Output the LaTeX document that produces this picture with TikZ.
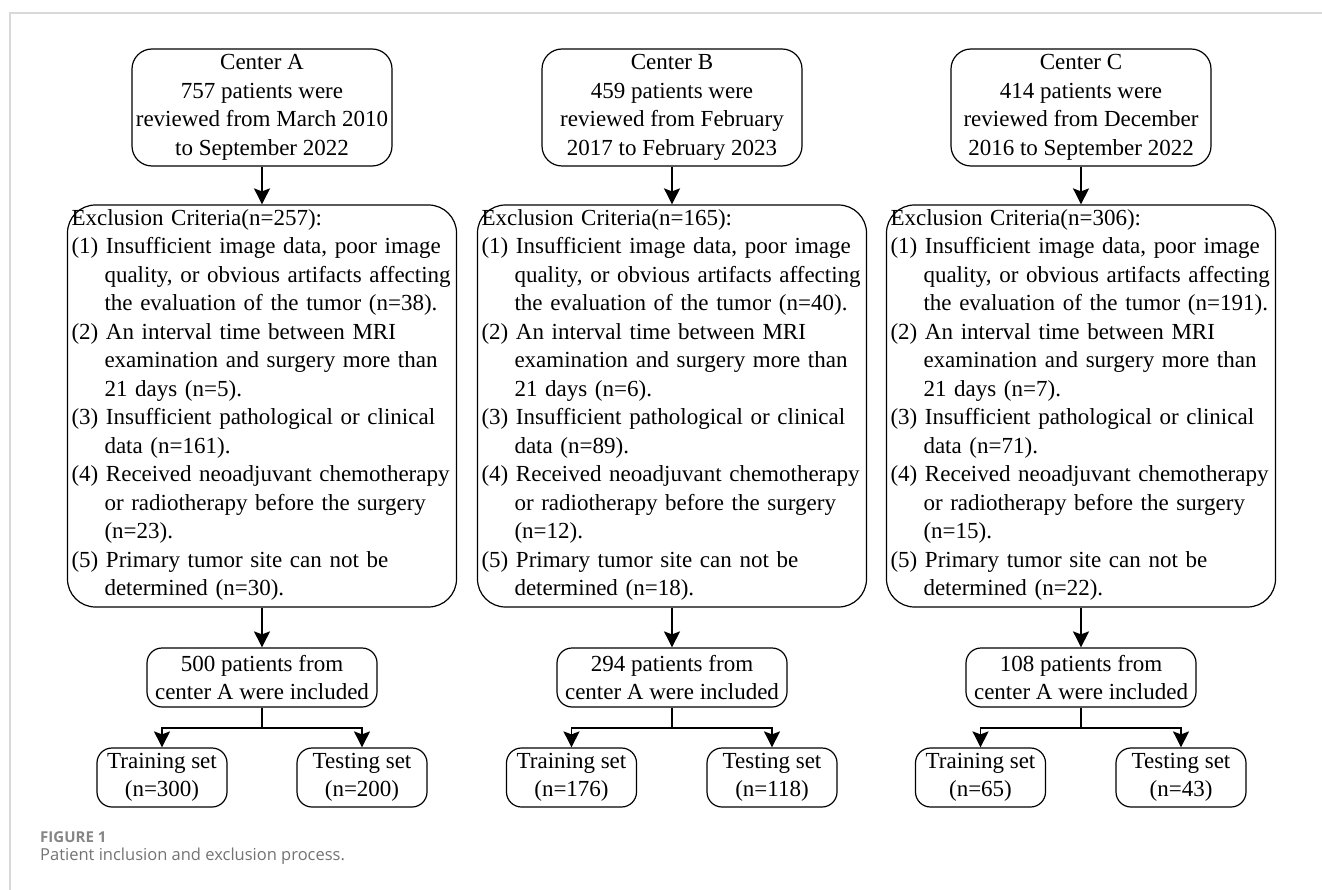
\documentclass[tikz,border=0pt]{standalone}
\usepackage{fontspec}
\setmainfont{Liberation Serif}
\newfontfamily\capfont{Open Sans}
\usetikzlibrary{arrows.meta}
\newcommand{\ind}{\hspace*{33pt}}
\begin{document}
\begin{tikzpicture}[x=1pt,y=-1pt,
  every node/.style={font=\fontsize{23}{28.5}\selectfont},
  box/.style={draw, line width=1.2pt, inner sep=0pt, align=center},
  topbox/.style={box, rounded corners=20pt, minimum width=260pt, minimum height=117pt},
  exbox/.style={box, rounded corners=28pt, minimum width=389pt, minimum height=402pt},
  exText/.style={inner sep=0pt, align=left, text width=383pt},
  incbox/.style={box, rounded corners=15pt, minimum width=230pt, minimum height=59pt},
  setbox/.style={box, rounded corners=15pt, minimum width=130pt, minimum height=59pt},
  arr/.style={line width=1.8pt, -{Stealth[length=16pt,width=16pt,inset=3pt]}},
  ln/.style={line width=1.8pt},
  frame/.style={draw=black!15, line width=1.5pt}
]
\useasboundingbox (0,0) rectangle (1322,890);
\draw[frame] (1322,13) -- (10,13) -- (10,890);

% ---------- Column A ----------
\node[topbox] (topA) at (262,107.5) {Center A\\757 patients were\\reviewed from March 2010\\to September 2022};
\node[exbox] (exA) at (262,406) {};
\node[exText] (exAt) at (263,405) {Exclusion Criteria(n=257):\\
(1) Insufficient image data, poor image\\
\ind quality, or obvious artifacts affecting\\
\ind the evaluation of the tumor (n=38).\\
(2) An interval time between MRI\\
\ind examination and surgery more than\\
\ind 21 days (n=5).\\
(3) Insufficient pathological or clinical\\
\ind data (n=161).\\
(4) Received neoadjuvant chemotherapy\\
\ind or radiotherapy before the surgery\\
\ind (n=23).\\
(5) Primary tumor site can not be\\
\ind determined (n=30).};
\node[incbox] (incA) at (262,677.5) {500 patients from\\center A were included};
\node[setbox] (trA) at (162,777.5) {Training set\\(n=300)};
\node[setbox] (teA) at (362,777.5) {Testing set\\(n=200)};
\draw[arr] (topA.south) -- (exA.north);
\draw[arr] (exA.south) -- (incA.north);
\draw[ln] (incA.south) -- ++(0,20) coordinate (mA);
\draw[arr] (mA) -| (trA.north);
\draw[arr] (mA) -| (teA.north);

% ---------- Column B ----------
\node[topbox] (topB) at (672,107.5) {Center B\\459 patients were\\reviewed from February\\2017 to February 2023};
\node[exbox] (exB) at (672,406) {};
\node[exText] (exBt) at (673,405) {Exclusion Criteria(n=165):\\
(1) Insufficient image data, poor image\\
\ind quality, or obvious artifacts affecting\\
\ind the evaluation of the tumor (n=40).\\
(2) An interval time between MRI\\
\ind examination and surgery more than\\
\ind 21 days (n=6).\\
(3) Insufficient pathological or clinical\\
\ind data (n=89).\\
(4) Received neoadjuvant chemotherapy\\
\ind or radiotherapy before the surgery\\
\ind (n=12).\\
(5) Primary tumor site can not be\\
\ind determined (n=18).};
\node[incbox] (incB) at (672,677.5) {294 patients from\\center A were included};
\node[setbox] (trB) at (571.5,777.5) {Training set\\(n=176)};
\node[setbox] (teB) at (772,777.5) {Testing set\\(n=118)};
\draw[arr] (topB.south) -- (exB.north);
\draw[arr] (exB.south) -- (incB.north);
\draw[ln] (incB.south) -- ++(0,20) coordinate (mB);
\draw[arr] (mB) -| (trB.north);
\draw[arr] (mB) -| (teB.north);

% ---------- Column C ----------
\node[topbox] (topC) at (1081,107.5) {Center C\\414 patients were\\reviewed from December\\2016 to September 2022};
\node[exbox] (exC) at (1081,406) {};
\node[exText] (exCt) at (1082,405) {Exclusion Criteria(n=306):\\
(1) Insufficient image data, poor image\\
\ind quality, or obvious artifacts affecting\\
\ind the evaluation of the tumor (n=191).\\
(2) An interval time between MRI\\
\ind examination and surgery more than\\
\ind 21 days (n=7).\\
(3) Insufficient pathological or clinical\\
\ind data (n=71).\\
(4) Received neoadjuvant chemotherapy\\
\ind or radiotherapy before the surgery\\
\ind (n=15).\\
(5) Primary tumor site can not be\\
\ind determined (n=22).};
\node[incbox] (incC) at (1081,677.5) {108 patients from\\center A were included};
\node[setbox] (trC) at (980.5,777.5) {Training set\\(n=65)};
\node[setbox] (teC) at (1181,777.5) {Testing set\\(n=43)};
\draw[arr] (topC.south) -- (exC.north);
\draw[arr] (exC.south) -- (incC.north);
\draw[ln] (incC.south) -- ++(0,20) coordinate (mC);
\draw[arr] (mC) -| (trC.north);
\draw[arr] (mC) -| (teC.north);

% ---------- Caption ----------
\node[anchor=base west, inner sep=0pt, text=black!48, font=\capfont\bfseries\fontsize{15}{17}\selectfont] (figlab) at (40,842) {FIGURE 1};
\node[anchor=base west, inner sep=0pt, text=black!55, font=\capfont\fontsize{16.5}{19}\selectfont] (figcap) at (40,860) {Patient inclusion and exclusion process.};
\end{tikzpicture}
\end{document}
